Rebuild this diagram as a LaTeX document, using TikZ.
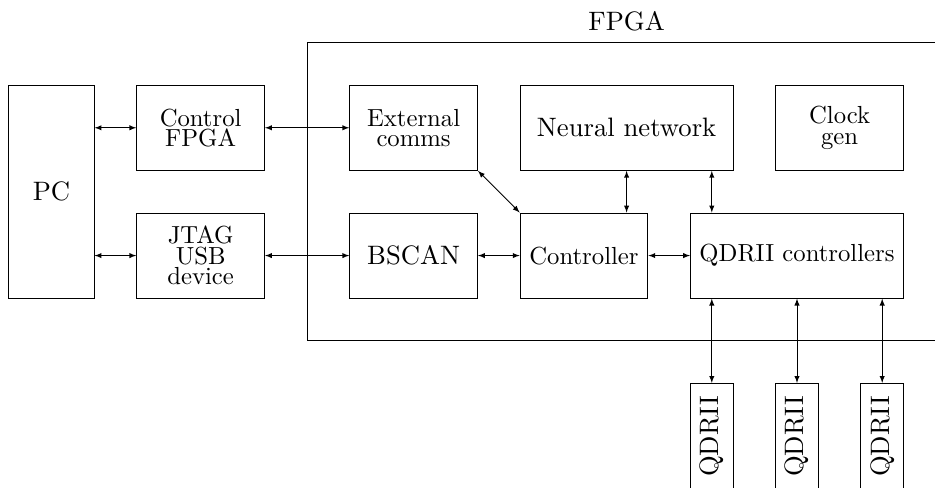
\documentclass[tikz,border=0pt]{standalone}
\usetikzlibrary{positioning, arrows}
% Latin Modern at its 10pt design size, set large
\DeclareFontFamily{TU}{lmten}{}
\DeclareFontShape{TU}{lmten}{m}{n}{<->\UnicodeFontFile{lmroman10-regular}{\UnicodeFontTeXLigatures}}{}
\newcommand{\blkfont}{\fontfamily{lmten}\fontsize{16.5}{13.6}\selectfont}
\newcommand{\bigfont}{\fontfamily{lmten}\fontsize{17.8}{14}\selectfont}
\tikzstyle{blk} = [rectangle, draw=black, text centered, align=center, inner sep=0pt, font=\blkfont]
\tikzstyle{mem} = [blk, rotate=90, minimum width=2.5cm, minimum height=1cm, font=\bigfont]
\tikzstyle{arrow} = [<->,>=latex]

\begin{document}
\begin{tikzpicture}[line width=0.6pt]
                \clip (-0.21,-9.44) rectangle (21.74,2.0);
                \draw (7,1) rectangle (23,-6);
                \node (fpgalbl) [font=\bigfont] at (14.5,1.49) {FPGA};

                \node (pc) [blk, font=\bigfont, minimum width=2cm, minimum height=5cm] at (1,-2.5) {PC};
                \node (ctrlfpga) [blk, minimum width=3cm, minimum height=2cm] at (4.5,-1) {Control\\FPGA};
                \node (jtag) [blk, minimum width=3cm, minimum height=2cm] at (4.5,-4) {JTAG\\USB\\device};
                \node (ext) [blk, minimum width=3cm, minimum height=2cm] at (9.5,-1) {External\\comms};
                \node (nn) [blk, font=\bigfont, minimum width=5cm, minimum height=2cm] at (14.5,-1) {Neural network};
                \node (clk) [blk, minimum width=3cm, minimum height=2cm] at (19.5,-1) {Clock\\gen};
                \node (bscan) [blk, font=\bigfont, minimum width=3cm, minimum height=2cm] at (9.5,-4) {BSCAN};
                \node (ctrl) [blk, minimum width=3cm, minimum height=2cm] at (13.5,-4) {Controller};
                \node (qdrc) [blk, minimum width=5cm, minimum height=2cm] at (18.5,-4) {QDRII controllers};
                \node (qdr1) [mem] at (16.5,-8.25) {QDRII};
                \node (qdr2) [mem] at (18.5,-8.25) {QDRII};
                \node (qdr3) [mem] at (20.5,-8.25) {QDRII};

                \draw [arrow] (pc.east |- ctrlfpga) -- (ctrlfpga.west);
                \draw [arrow] (pc.east |- jtag) -- (jtag.west);
                \draw [arrow] (ctrlfpga.east) -- (ext.west);
                \draw [arrow] (jtag.east) -- (bscan.west);
                \draw [arrow] (bscan.east) -- (ctrl.west);
                \draw [arrow] (ctrl.east) -- (qdrc.west);
                \draw [arrow] (ext.south east) -- (ctrl.north west);
                \draw [arrow] (nn.south) -- (nn.south |- ctrl.north);
                \draw [arrow] (nn.south -| qdr1) -- (qdrc.north -| qdr1);
                \draw [arrow] (qdrc.south -| qdr1) -- (qdr1.east);
                \draw [arrow] (qdrc.south -| qdr2) -- (qdr2.east);
                \draw [arrow] (qdrc.south -| qdr3) -- (qdr3.east);
            \end{tikzpicture}
\end{document}
